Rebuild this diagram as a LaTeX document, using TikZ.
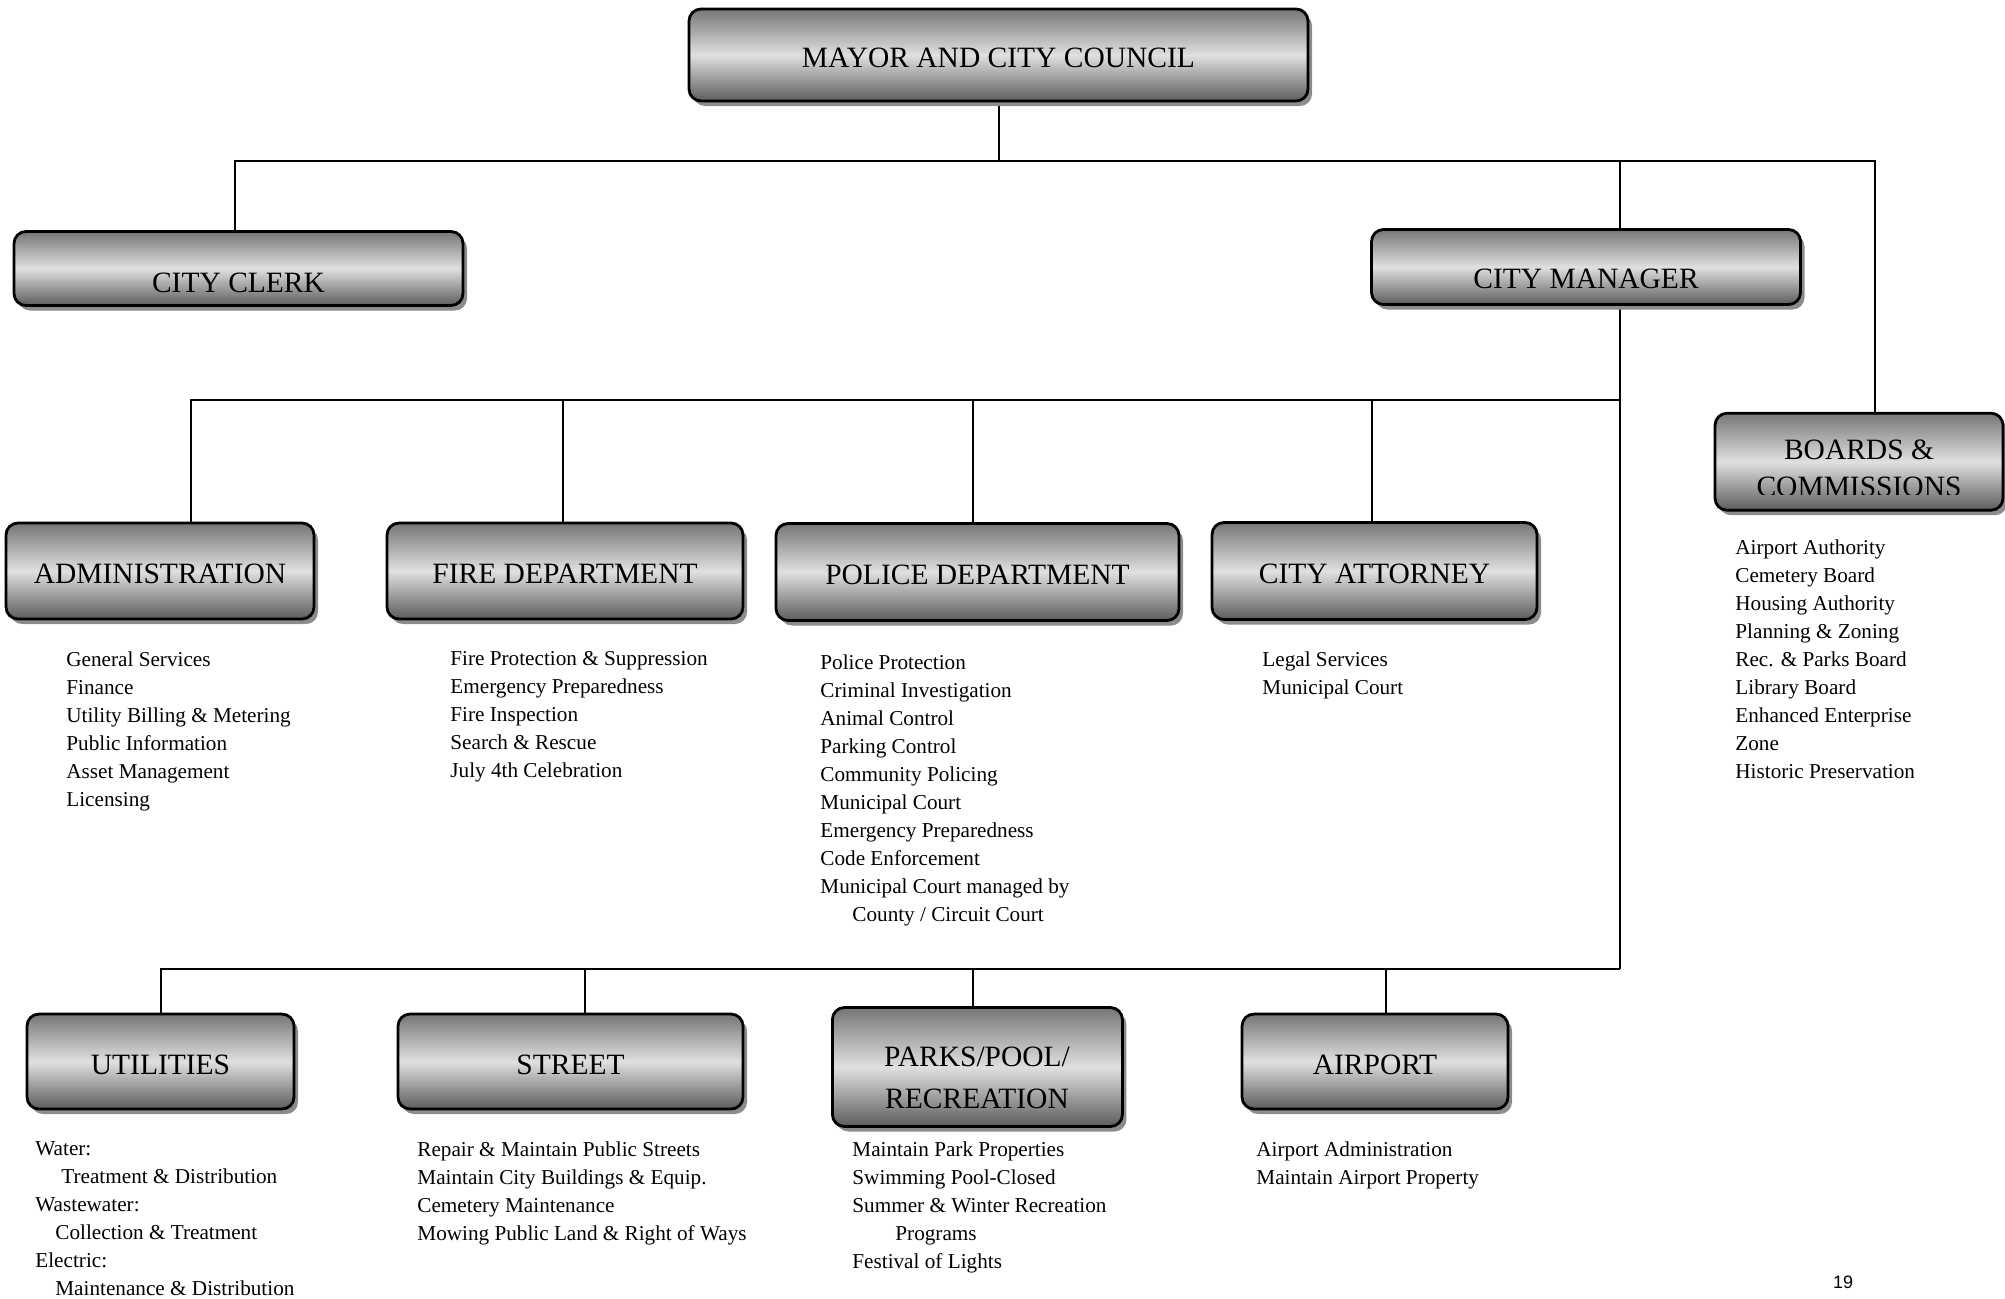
\documentclass[tikz,border=0pt]{standalone}
\usepackage{fontspec}
\setmainfont{Liberation Serif}
\newfontfamily\pagefont{Liberation Sans}
\usetikzlibrary{shadows, backgrounds}
\definecolor{OrgDark}{RGB}{118,118,118}
\definecolor{OrgDeep}{RGB}{92,92,92}
\definecolor{OrgLight}{RGB}{224,224,224}
\definecolor{OrgShadow}{RGB}{140,140,140}

\tikzset{
  unit/.style={draw, line width=1.4pt, rounded corners=6pt,
    top color=OrgDark, bottom color=OrgDeep, middle color=OrgLight,
    drop shadow={shadow xshift=2pt, shadow yshift=-2.5pt, fill=OrgShadow, opacity=1},
    inner sep=0pt, text height=12.6pt, text depth=0pt, font=\fontsize{14.75}{20}\selectfont},
  heading/.style={align=center, inner sep=0pt, font=\fontsize{14.75}{20.8}\selectfont},
  duties/.style={anchor=north west, align=left, inner sep=0pt, font=\fontsize{10.6}{14}\selectfont},
  link/.style={line width=1pt}
}

\begin{document}
\begin{tikzpicture}[x=0.5pt, y=-0.5pt]
  \useasboundingbox (0,0) rectangle (2005,1298);

  % top level
  \node[unit, minimum width=309.5pt, minimum height=46pt] (mayor) at (998.5,55) {MAYOR AND CITY COUNCIL};
  \node[unit, minimum width=224.5pt, minimum height=37pt, text height=24pt] (clerk) at (238.5,268.5) {CITY CLERK};
  \node[unit, minimum width=214.5pt, minimum height=37.5pt, text height=21.5pt] (manager) at (1586,267) {CITY MANAGER};
  \node[unit, minimum width=144pt, minimum height=48.5pt] (boards) at (1859,461.7) {};
  \begin{scope}
    \clip (boards.north west) rectangle ([yshift=8.5pt]boards.south east);
    \node[heading, font=\fontsize{14.75}{18.5}\selectfont] (boards label) at (1859,468.5) {BOARDS \&\\COMMISSIONS};
  \end{scope}

  % departments
  \node[unit, minimum width=154pt, minimum height=48pt] (admin) at (160,571) {ADMINISTRATION};
  \node[unit, minimum width=178pt, minimum height=48pt] (fire) at (565,571) {FIRE DEPARTMENT};
  \node[unit, minimum width=201.5pt, minimum height=48.5pt] (police) at (977.5,572) {POLICE DEPARTMENT};
  \node[unit, minimum width=162.5pt, minimum height=48.5pt] (attorney) at (1374.5,571) {CITY ATTORNEY};

  \node[unit, minimum width=133.5pt, minimum height=47.5pt] (utilities) at (160.5,1061.5) {UTILITIES};
  \node[unit, minimum width=172.5pt, minimum height=47.5pt] (street) at (570.5,1061.5) {STREET};
  \node[unit, minimum width=145pt, minimum height=59.5pt] (parks) at (977.4,1067) {};
  \node[heading] (parks label) at (977,1078) {PARKS/POOL/\\RECREATION};
  \node[unit, minimum width=133pt, minimum height=47.5pt] (airport) at (1375,1061.5) {AIRPORT};

  % bus lines
  \coordinate (topbus) at (999,161);
  \coordinate (spine top) at (1620,161);
  \coordinate (midbus) at (1620,400);
  \coordinate (spine bottom) at (1620,969);

  \begin{scope}[on background layer]
    \draw[link] (mayor) -- (mayor |- topbus);
    \draw[link] ([xshift=-2pt]clerk.center) |- (topbus) -| ([xshift=8pt]boards.north);
    \draw[link] (spine top) -- (spine bottom);
    \draw[link] (midbus) -| ([xshift=15.25pt]admin.north);
    \draw[link] ([xshift=-1pt]fire.center) |- (midbus);
    \draw[link] ([xshift=-2.25pt]police.center) |- (midbus);
    \draw[link] ([xshift=-1.5pt]attorney.center) |- (midbus);
    \draw[link] (spine bottom) -| (utilities);
    \draw[link] ([xshift=7pt]street.center) |- (spine bottom);
    \draw[link] ([xshift=-2pt]parks.center) |- (spine bottom);
    \draw[link] ([xshift=5.5pt]airport.center) |- (spine bottom);
  \end{scope}

  % duties
  \node[duties] (admin list) at (66,651) {General Services\\Finance\\Utility Billing \& Metering\\Public Information\\Asset Management\\Licensing};
  \node[duties] (fire list) at (450,651) {Fire Protection \& Suppression\\Emergency Preparedness\\Fire Inspection\\Search \& Rescue\\July 4th Celebration};
  \node[duties] (police list) at (820,654) {Police Protection\\Criminal Investigation\\Animal Control\\Parking Control\\Community Policing\\Municipal Court\\Emergency Preparedness\\Code Enforcement\\Municipal Court managed by\\\hspace*{16pt}County / Circuit Court};
  \node[duties] (attorney list) at (1262,651) {Legal Services\\Municipal Court};
  \node[duties] (boards list) at (1735,539) {Airport Authority\\Cemetery Board\\Housing Authority\\Planning \& Zoning\\Rec. \& Parks Board\\Library Board\\Enhanced Enterprise\\Zone\\Historic Preservation};

  \node[duties] (utilities list) at (35,1141) {Water:\\\hspace*{13pt}Treatment \& Distribution\\Wastewater:\\\hspace*{10pt}Collection \& Treatment\\Electric:\\\hspace*{10pt}Maintenance \& Distribution};
  \node[duties] (street list) at (417,1141) {Repair \& Maintain Public Streets\\Maintain City Buildings \& Equip.\\Cemetery Maintenance\\Mowing Public Land \& Right of Ways};
  \node[duties] (parks list) at (852,1141) {Maintain Park Properties\\Swimming Pool-Closed\\Summer \& Winter Recreation\\\hspace*{21.5pt}Programs\\Festival of Lights};
  \node[duties] (airport list) at (1256,1141) {Airport Administration\\Maintain Airport Property};

  \node[font=\pagefont\fontsize{9}{11}\selectfont, inner sep=0pt] (page no) at (1843,1282) {19};
\end{tikzpicture}
\end{document}
